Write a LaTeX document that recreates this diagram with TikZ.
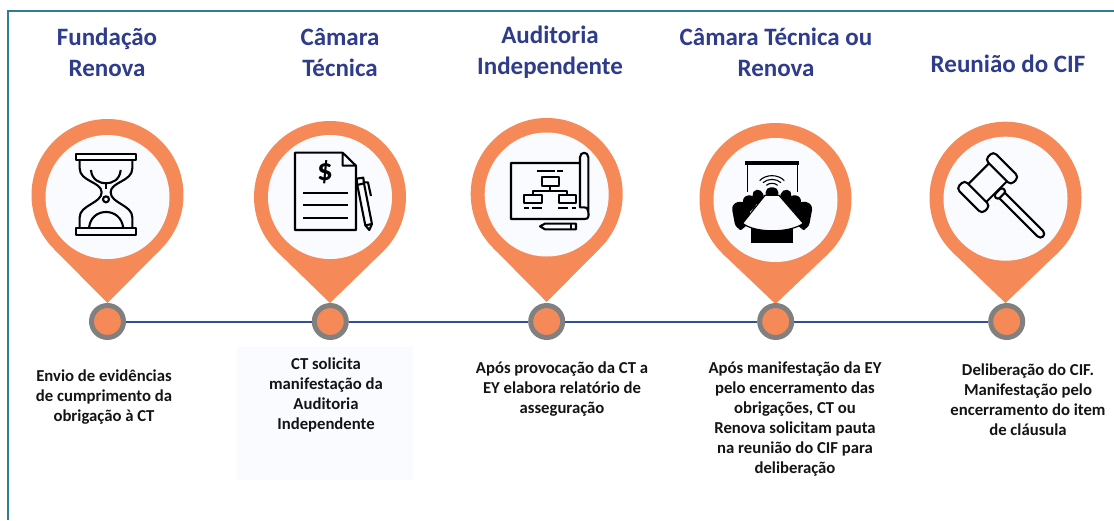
\documentclass[tikz,border=0pt]{standalone}
\usepackage{fontspec}
\setmainfont{Carlito}
\definecolor{pinorange}{HTML}{F58958}
\definecolor{pinface}{HTML}{FAFBFF}
\definecolor{ringgray}{HTML}{808080}
\definecolor{linkblue}{HTML}{2F4F96}
\definecolor{titleblue}{HTML}{2F3C8C}
\definecolor{framegreen}{HTML}{2E7C96}
\definecolor{bodyblack}{HTML}{141414}
\tikzset{
  titletext/.style={align=center,text=titleblue,font=\fontsize{25}{31}\selectfont\bfseries,inner sep=0pt},
  bodytext/.style={align=center,text=bodyblack,font=\fontsize{16.7}{20}\selectfont\bfseries,inner sep=0pt},
  dotnode/.style={circle,draw=ringgray,fill=pinorange,line width=5pt,minimum size=32pt,inner sep=0pt},
  iconline/.style={draw=black,line width=2.1pt,line join=round},
  linkline/.style={draw=linkblue,line width=2pt},
  icon/.style={x=0.3333pt,y=-0.3333pt}
}
\newcommand{\pinmark}[4]{% cx cy tipy innercy
  \fill[pinorange] (#1,#2) circle (76);
  \fill[pinorange] (#1,#3) -- ({#1+53.6},{#2+53.9}) -- ({#1-53.6},{#2+53.9}) -- cycle;
  \fill[pinface] (#1,#4) circle (62);
}
\begin{document}
\begin{tikzpicture}[x=1pt,y=-1pt]
\useasboundingbox (0,0) rectangle (1114,520);
\fill[white] (0,0) rectangle (1114,520);
\draw[framegreen,line width=2pt] (8,520) -- (8,11) -- (1114,11);
\fill[pinface] (237,347) rectangle (413,480);

% pins
\pinmark{107.5}{195}{303}{197}
\pinmark{330}{197}{303}{197}
\pinmark{546.7}{194}{302}{194.5}
\pinmark{775.5}{199}{304}{200}
\pinmark{1005.5}{197.7}{303}{198.7}

% connectors and dots
\node[dotnode] (d1) at (107.5,321.5) {};
\node[dotnode] (d2) at (330.3,321.5) {};
\node[dotnode] (d3) at (546.7,321.5) {};
\node[dotnode] (d4) at (775.7,321.5) {};
\node[dotnode] (d5) at (1006.7,321.5) {};
\draw[linkline] (d1) -- (d2);
\draw[linkline] (d2) -- (d3);
\draw[linkline] (d3) -- (d4);
\draw[linkline] (d4) -- (d5);

% hourglass
\begin{scope}[shift={(20,100)},icon]
  \draw[iconline] (167,161) rectangle (349,181);
  \draw[iconline] (167,385) rectangle (349,404);
  \draw[iconline] (179,181) -- (179,205) .. controls (179,245) and (245,245) .. (245,277) .. controls (245,310) and (179,315) .. (179,352) -- (179,385);
  \draw[iconline] (337,181) -- (337,205) .. controls (337,245) and (272,245) .. (272,277) .. controls (272,310) and (337,315) .. (337,352) -- (337,385);
  \draw[iconline] (213,210) .. controls (215,240) and (240,250) .. (258,250) .. controls (276,250) and (300,240) .. (302,210);
  \draw[iconline] (258,250) -- (258,268);
  \draw[iconline] (258,298) circle (9);
  \draw[iconline] (207,385) .. controls (210,350) and (235,336) .. (258,336) .. controls (281,336) and (306,350) .. (310,385);
\end{scope}

% document
\begin{scope}[shift={(20,100)},icon]
  \draw[iconline] (968,158) -- (825,158) -- (825,390) -- (1008,390) -- (1008,197) -- (968,158) -- (968,197) -- (1008,197);
  \node[inner sep=0pt,font=\fontsize{31}{31}\selectfont\bfseries,text=black] (dollar) at (915,217) {\$};
  \draw[iconline] (850,278) -- (983,278);
  \draw[iconline] (850,316) -- (983,316);
  \draw[iconline] (850,354) -- (983,354);
  \draw[iconline,fill=pinface] (1012,255) -- (1032,250) -- (1056,372) -- (1048,390) -- (1036,376) -- cycle;
  \draw[iconline] (1036,376) -- (1056,372);
  \draw[iconline] (1012,255) -- (1010,236) -- (1030,233) -- (1032,250);
  \draw[iconline] (1030,247) -- (1044,247) -- (1053,288);
\end{scope}

% blueprint
\begin{scope}[shift={(450,100)},icon]
  \draw[iconline] (390,189) -- (183,189) -- (183,357) -- (405,357) .. controls (418,357) and (416,345) .. (415,335) -- (415,172) .. controls (415,154) and (390,154) .. (390,172) -- (390,322) -- (402,322) .. controls (412,322) and (415,330) .. (415,337);
  \draw[iconline] (260,214) -- (315,214) (322,214) -- (340,214);
  \draw[iconline] (275,230) rectangle (327,258);
  \draw[iconline] (222,285) rectangle (275,310);
  \draw[iconline] (328,285) rectangle (378,310);
  \draw[iconline] (300,258) -- (300,272) (250,285) -- (250,272) -- (352,272) -- (352,285);
  \draw[iconline] (222,324) -- (237,324) (245,324) -- (275,324) (325,324) -- (355,324) (365,324) -- (378,324);
  \draw[iconline] (270,379) -- (285,371) -- (378,371) -- (378,388) -- (285,388) -- cycle;
  \draw[iconline] (363,371) -- (363,388);
\end{scope}

% meeting room
\begin{scope}[shift={(450,100)},icon]
  \fill[black] (885,184) rectangle (1048,196);
  \draw[draw=black,line width=1pt] (892,196) -- (892,275) (1042,196) -- (1042,275);
  \draw[iconline,line width=1.1pt] (949,256) .. controls (957,248) and (975,248) .. (983,256);
  \draw[iconline,line width=1.1pt] (939,248) .. controls (953,235) and (979,235) .. (993,248);
  \draw[iconline,line width=1.1pt] (929,242) .. controls (948,222) and (984,222) .. (1003,242);
  \fill[black,rounded corners=5pt] (947,262) rectangle (985,295);
  \fill[black,rounded corners=5pt] (905,272) -- (935,267) -- (945,300) -- (915,320) -- cycle;
  \fill[black,rounded corners=5pt] (1027,272) -- (997,267) -- (987,300) -- (1017,320) -- cycle;
  \fill[black,rounded corners=6pt] (875,290) -- (912,283) -- (925,312) -- (890,345) -- cycle;
  \fill[black,rounded corners=6pt] (1057,290) -- (1020,283) -- (1007,312) -- (1042,345) -- cycle;
  \fill[black,rounded corners=7pt] (843,310) -- (888,302) -- (905,335) -- (885,390) -- (858,390) -- cycle;
  \fill[black,rounded corners=7pt] (1090,310) -- (1045,302) -- (1028,335) -- (1048,390) -- (1075,390) -- cycle;
  \fill[black] (902,385) rectangle (1030,428);
  \draw[draw=black,line width=1.2pt,fill=pinface] (945,286) -- (987,286) -- (1060,370) .. controls (1020,400) and (915,400) .. (878,370) -- cycle;
\end{scope}

% gavel
\begin{scope}[shift={(850,100)},icon]
  \begin{scope}[shift={(413,248)},rotate=-45]
    \draw[iconline] (-38,-44) rectangle (38,44);
    \draw[iconline,rounded corners=4pt,fill=pinface] (-54,-78) rectangle (54,-44);
    \draw[iconline,rounded corners=4pt,fill=pinface] (-54,44) rectangle (54,78);
    \draw[iconline,rounded corners=3pt,fill=pinface] (40,-21) rectangle (58,15);
    \draw[iconline,rounded corners=4pt] (58,-15) -- (232,-15) -- (232,8) -- (58,8);
  \end{scope}
\end{scope}

% titles
\node[titletext] (t1) at (107,52.5) {Fundação\\Renova};
\node[titletext] (t2) at (340,52.5) {Câmara\\Técnica};
\node[titletext] (t3) at (550,52) {Auditoria\\Independente};
\node[titletext] (t4) at (776,52.5) {Câmara Técnica ou\\Renova};
\node[titletext] (t5) at (1008,64) {Reunião do CIF};

% body
\node[bodytext] (b1) at (104,397.5) {Envio de evidências\\de cumprimento da\\obrigação à CT};
\node[bodytext] (b2) at (326,395) {CT solicita\\manifestação da\\Auditoria\\Independente};
\node[bodytext] (b3) at (562,389.5) {Após provocação da CT a\\EY elabora relatório de\\asseguração};
\node[bodytext] (b4) at (795,419.5) {Após manifestação da EY\\pelo encerramento das\\obrigações, CT ou\\Renova solicitam pauta\\na reunião do CIF para\\deliberação};
\node[bodytext] (b5) at (1028,400) {Deliberação do CIF.\\Manifestação pelo\\encerramento do item\\de cláusula};
\end{tikzpicture}
\end{document}
